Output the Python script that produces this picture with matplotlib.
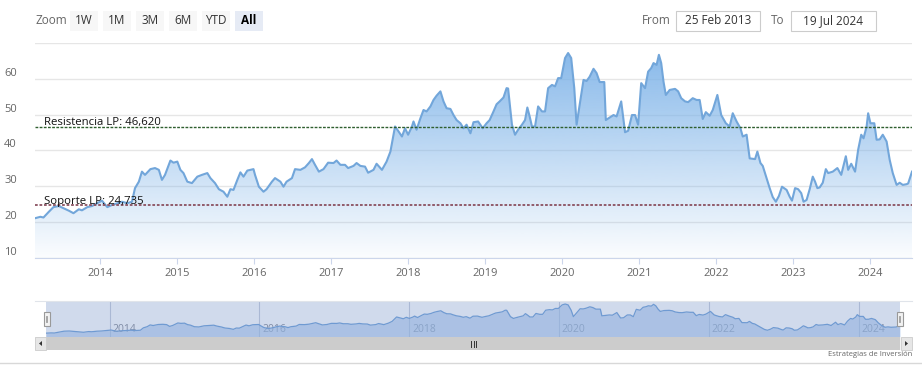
import matplotlib
matplotlib.use('Agg')
import matplotlib.pyplot as plt
from matplotlib.patches import Rectangle, Polygon
import numpy as np

plt.rcParams['font.family'] = ['Open Sans', 'DejaVu Sans']

# fecha en años decimales y cotización
fechas = [
    2013.15, 2013.22, 2013.26, 2013.33, 2013.39, 2013.46, 2013.52, 2013.59, 2013.65, 2013.72,
    2013.76, 2013.83, 2013.89, 2013.96, 2014.02, 2014.09, 2014.15, 2014.22, 2014.28, 2014.35,
    2014.41, 2014.45, 2014.50, 2014.54, 2014.58, 2014.65, 2014.71, 2014.76, 2014.80, 2014.84,
    2014.91, 2014.95, 2015.00, 2015.04, 2015.08, 2015.13, 2015.19, 2015.26, 2015.32, 2015.39,
    2015.43, 2015.49, 2015.54, 2015.60, 2015.65, 2015.69, 2015.73, 2015.78, 2015.82, 2015.86,
    2015.91, 2015.99, 2016.01, 2016.06, 2016.12, 2016.16, 2016.23, 2016.27, 2016.34, 2016.38,
    2016.42, 2016.49, 2016.53, 2016.60, 2016.66, 2016.71, 2016.75, 2016.79, 2016.84, 2016.90,
    2016.96, 2017.03, 2017.07, 2017.12, 2017.18, 2017.22, 2017.29, 2017.33, 2017.38, 2017.44,
    2017.48, 2017.55, 2017.59, 2017.66, 2017.72, 2017.77, 2017.79, 2017.83, 2017.87, 2017.92,
    2017.96, 2018.00, 2018.05, 2018.07, 2018.11, 2018.16, 2018.20, 2018.24, 2018.29, 2018.33,
    2018.37, 2018.42, 2018.46, 2018.50, 2018.55, 2018.59, 2018.63, 2018.68, 2018.72, 2018.76,
    2018.81, 2018.85, 2018.91, 2018.97, 2019.02, 2019.06, 2019.11, 2019.15, 2019.19, 2019.24,
    2019.28, 2019.30, 2019.35, 2019.39, 2019.43, 2019.48, 2019.52, 2019.55, 2019.58, 2019.61,
    2019.65, 2019.69, 2019.74, 2019.78, 2019.82, 2019.87, 2019.91, 2019.95, 2019.99, 2020.04,
    2020.08, 2020.12, 2020.16, 2020.19, 2020.23, 2020.28, 2020.32, 2020.36, 2020.41, 2020.45,
    2020.49, 2020.55, 2020.57, 2020.62, 2020.67, 2020.71, 2020.77, 2020.82, 2020.86, 2020.91,
    2020.95, 2020.99, 2021.03, 2021.08, 2021.12, 2021.16, 2021.19, 2021.23, 2021.26, 2021.29,
    2021.32, 2021.35, 2021.40, 2021.47, 2021.51, 2021.55, 2021.60, 2021.64, 2021.70, 2021.75,
    2021.79, 2021.83, 2021.87, 2021.92, 2021.96, 2022.02, 2022.07, 2022.13, 2022.18, 2022.22,
    2022.27, 2022.32, 2022.35, 2022.40, 2022.44, 2022.51, 2022.54, 2022.58, 2022.61, 2022.66,
    2022.70, 2022.74, 2022.78, 2022.82, 2022.86, 2022.92, 2022.96, 2022.99, 2023.03, 2023.07,
    2023.11, 2023.14, 2023.18, 2023.22, 2023.26, 2023.29, 2023.32, 2023.35, 2023.39, 2023.43,
    2023.46, 2023.52, 2023.58, 2023.63, 2023.69, 2023.72, 2023.76, 2023.81, 2023.85, 2023.89,
    2023.92, 2023.96, 2023.98, 2024.01, 2024.06, 2024.09, 2024.13, 2024.17, 2024.22, 2024.26,
    2024.30, 2024.35, 2024.39, 2024.43, 2024.48, 2024.50, 2024.55,
]
precios = [
    21.1, 21.5, 21.3, 22.9, 24.2, 24.5, 23.9, 23.2, 22.5, 23.6,
    23.3, 24.2, 24.5, 25.3, 26.0, 24.2, 24.8, 25.3, 25.7, 25.3,
    25.7, 29.5, 31.3, 34.1, 33.2, 34.8, 35.1, 34.6, 31.8, 33.2,
    37.2, 36.6, 36.9, 34.6, 33.7, 31.3, 30.9, 32.7, 33.2, 33.7,
    32.3, 30.9, 29.2, 28.5, 27.1, 29.2, 29.0, 31.8, 33.9, 32.7,
    34.4, 34.8, 33.2, 29.9, 28.5, 29.2, 31.3, 32.3, 31.3, 29.9,
    31.3, 32.3, 34.8, 34.6, 35.3, 36.5, 37.6, 36.0, 34.1, 34.8,
    36.6, 36.5, 37.2, 36.0, 36.0, 35.1, 35.7, 36.5, 35.7, 35.5,
    33.8, 34.6, 36.3, 34.6, 36.9, 39.7, 42.0, 46.7, 45.5, 43.9,
    46.2, 44.4, 46.7, 48.1, 45.8, 49.0, 51.3, 50.9, 52.3, 54.1,
    55.3, 56.5, 53.7, 51.8, 51.6, 49.9, 48.5, 47.6, 46.2, 47.2,
    44.8, 47.9, 48.1, 46.2, 47.6, 48.5, 50.9, 52.9, 53.7, 54.8,
    57.4, 57.3, 47.2, 44.4, 45.8, 47.2, 48.5, 52.0, 49.5, 46.7,
    46.7, 52.3, 50.9, 50.9, 57.4, 58.3, 57.9, 60.2, 60.2, 65.8,
    67.2, 65.8, 57.4, 47.2, 52.8, 59.7, 59.4, 60.6, 62.8, 61.6,
    59.1, 59.1, 48.5, 49.2, 49.9, 49.5, 53.7, 45.1, 45.5, 49.9,
    49.9, 47.2, 58.8, 57.4, 62.0, 63.0, 64.4, 63.9, 66.7, 64.4,
    59.2, 55.5, 56.9, 57.2, 56.5, 54.6, 53.7, 53.5, 54.6, 54.1,
    54.1, 48.8, 50.7, 49.7, 51.3, 55.5, 49.9, 47.6, 46.7, 50.4,
    48.1, 46.2, 43.9, 44.4, 37.8, 37.6, 39.7, 36.5, 35.7, 32.3,
    29.5, 27.0, 25.7, 27.3, 29.9, 29.0, 27.1, 26.0, 29.5, 29.2,
    28.1, 25.7, 26.2, 29.2, 32.7, 31.3, 29.5, 29.7, 31.0, 34.8,
    33.7, 34.1, 35.1, 33.2, 38.4, 34.6, 36.3, 34.1, 40.2, 44.4,
    43.4, 46.7, 50.4, 47.6, 47.6, 43.0, 43.1, 44.4, 42.5, 37.4,
    33.7, 30.4, 31.0, 30.4, 30.6, 30.8, 34.1,
]

resistencia = 46.620
soporte = 24.735
anios = list(range(2014, 2025))
anios_nav = list(range(2014, 2025, 2))
botones = ['1W', '1M', '3M', '6M', 'YTD', 'All']
desde, hasta = '25 Feb 2013', '19 Jul 2024'

W, H = 922, 375
fig = plt.figure(figsize=(W / 100, H / 100), dpi=100)
fig.patch.set_facecolor('white')


def caja(x0, y0, x1, y1):
    # pixeles (origen arriba-izquierda) -> fracción de figura
    return [x0 / W, 1 - y1 / H, (x1 - x0) / W, (y1 - y0) / H]


x = np.array(fechas)
y = np.array(precios)
xmin, xmax = fechas[0], fechas[-1]

# ---------------- gráfico principal ----------------
ax = fig.add_axes(caja(35, 43, 912, 258))
ax.set_xlim(xmin, xmax)
ax.set_ylim(10, 70)
for s in ['top', 'right', 'left']:
    ax.spines[s].set_visible(False)
ax.spines['bottom'].set_color('#ccd6eb')
ax.set_yticks(range(10, 71, 10))
ax.set_yticklabels([str(v) for v in range(10, 61, 10)] + [''])
ax.tick_params(axis='y', length=0, pad=13, labelsize=8, labelcolor='#666666')
for lbl in ax.get_yticklabels():
    lbl.set_va('bottom')
ax.grid(axis='y', color='#e6e6e6', lw=1)
ax.set_axisbelow(True)
ax.set_xticks(anios)
ax.set_xticklabels([str(a) for a in anios])
ax.tick_params(axis='x', length=4, color='#ccd6eb', pad=3, labelsize=8, labelcolor='#666666')

area = ax.fill_between(x, y, 10, facecolor='none', edgecolor='none')
grad = np.zeros((256, 1, 4))
grad[:, 0, 0] = 124 / 255
grad[:, 0, 1] = 178 / 255
grad[:, 0, 2] = 232 / 255
grad[:, 0, 3] = np.linspace(0.03, 0.95, 256)
im = ax.imshow(grad, extent=[xmin, xmax, 10, 70], aspect='auto', origin='lower', zorder=1)
im.set_clip_path(area.get_paths()[0], transform=ax.transData)
ax.plot(x, y, color='#72a6da', lw=1.5, zorder=3)

ax.axhline(resistencia, color='#2f5f2f', lw=1, ls=(0, (2, 1)), zorder=4)
ax.axhline(soporte, color='#8a5060', lw=1.3, ls=(0, (1.5, 1)), zorder=4)
ax.annotate('Resistencia LP: 46,620', xy=(0, resistencia), xycoords=('axes fraction', 'data'),
            xytext=(6.5, 1), textcoords='offset points', fontsize=8.2, color='#111111', zorder=5)
ax.annotate('Soporte LP: 24,735', xy=(0, soporte), xycoords=('axes fraction', 'data'),
            xytext=(6.5, 1), textcoords='offset points', fontsize=8.2, color='#111111', zorder=5)

# ---------------- navegador ----------------
nav = fig.add_axes(caja(46, 301, 900, 337))
nav.set_xlim(xmin, xmax)
nav.set_ylim(15, 72)
nav.axis('off')
for a in anios_nav:
    nav.axvline(a, color='#c8cfdc', lw=0.8, zorder=0)
    nav.annotate(str(a), xy=(a, 0.22), xycoords=('data', 'axes fraction'), xytext=(2, 0),
                 textcoords='offset points', fontsize=7.5, color='#8a8f99', va='center', zorder=1)
nav.fill_between(x, y, 15, color='#a6c6ec', alpha=0.6, lw=0, zorder=2)
nav.plot(x, y, color='#74a4d9', lw=0.9, zorder=3)
nav.add_patch(Rectangle((0, 0), 1, 1, transform=nav.transAxes, facecolor=(102 / 255, 133 / 255, 194 / 255),
                        alpha=0.3, lw=0, zorder=4))

# ---------------- interfaz (pixeles) ----------------
ui = fig.add_axes([0, 0, 1, 1])
ui.set_xlim(0, W)
ui.set_ylim(H, 0)
ui.axis('off')
ui.patch.set_alpha(0)

ui.text(35, 21, 'Zoom', fontsize=8.5, color='#666666', va='center', ha='left')
bx = 70
for b in botones:
    sel = b == 'All'
    ui.add_patch(Rectangle((bx, 11), 28, 20, facecolor='#e6ebf5' if sel else '#f7f7f7', lw=0))
    ui.text(bx + 14, 21, b, fontsize=8.5, color='#000000' if sel else '#333333',
            fontweight='bold' if sel else 'normal', ha='center', va='center')
    bx += 33

ui.text(642, 21, 'From', fontsize=8.5, color='#666666', va='center', ha='left')
ui.add_patch(Rectangle((676, 11), 84, 20, facecolor='white', edgecolor='#cccccc', lw=0.8))
ui.text(718, 21, desde, fontsize=8.5, color='#333333', va='center', ha='center')
ui.text(771, 21, 'To', fontsize=8.5, color='#666666', va='center', ha='left')
ui.add_patch(Rectangle((791, 11), 85, 20, facecolor='white', edgecolor='#cccccc', lw=0.8))
ui.text(833, 21, hasta, fontsize=8.5, color='#333333', va='center', ha='center')

# borde superior del navegador
ui.plot([35, 912], [300.5, 300.5], color='#e0e4ea', lw=0.8)
# manijas
for hx in (46, 899):
    ui.add_patch(Rectangle((hx - 2.5, 312), 6, 14, facecolor='#f2f2f2', edgecolor='#999999', lw=0.8, zorder=5))
    ui.plot([hx - 0.3, hx - 0.3], [316, 322], color='#999999', lw=0.6, zorder=6)
    ui.plot([hx + 1.3, hx + 1.3], [316, 322], color='#999999', lw=0.6, zorder=6)

# barra de desplazamiento
ui.add_patch(Rectangle((35, 337), 877, 13, facecolor='#f2f2f2', lw=0))
ui.add_patch(Rectangle((46, 337), 854, 13, facecolor='#cccccc', lw=0))
ui.add_patch(Rectangle((35, 337), 11, 13, facecolor='#e6e6e6', edgecolor='#cccccc', lw=0.6))
ui.add_patch(Rectangle((901, 337), 11, 13, facecolor='#e6e6e6', edgecolor='#cccccc', lw=0.6))
ui.add_patch(Polygon([[39, 343.5], [42, 341], [42, 346]], closed=True, facecolor='#333333', lw=0))
ui.add_patch(Polygon([[908, 343.5], [905, 341], [905, 346]], closed=True, facecolor='#333333', lw=0))
for rx in (471, 473.5, 476):
    ui.plot([rx, rx], [340.5, 346.5], color='#333333', lw=0.7)

ui.plot([0, W], [362.5, 362.5], color='#d8d8d8', lw=1)
ui.text(912, 355, 'Estrategias de Inversión', fontsize=5.5, color='#666666', ha='right', va='center')

plt.savefig('out.png', dpi=100)
